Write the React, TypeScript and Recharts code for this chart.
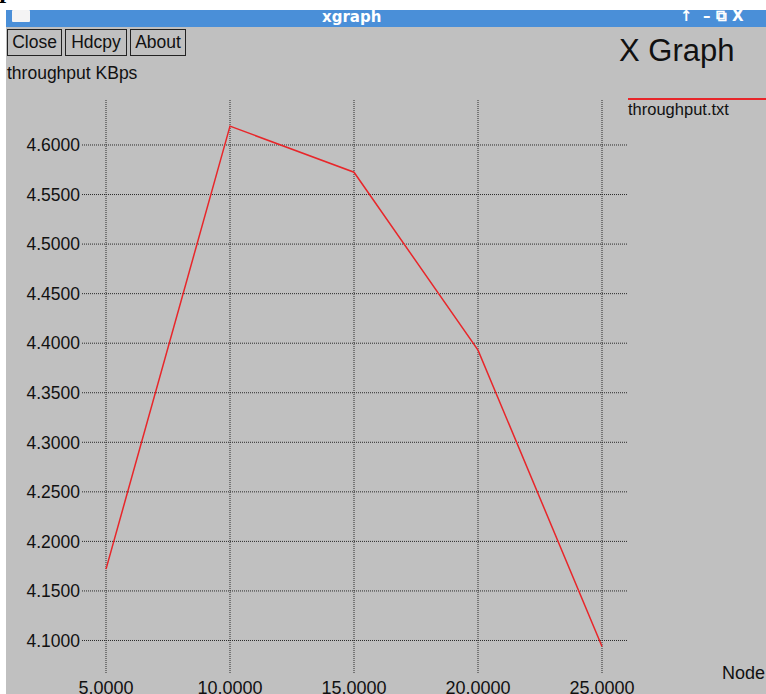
import React from 'react';
import { LineChart, Line, XAxis, YAxis, CartesianGrid } from 'recharts';

const nodes = [5, 10, 15, 20, 25];
const throughput = [4.172, 4.619, 4.5725, 4.393, 4.094];
const xTicks = [5, 10, 15, 20, 25];
const yTicks = [4.1, 4.15, 4.2, 4.25, 4.3, 4.35, 4.4, 4.45, 4.5, 4.55, 4.6];
const seriesName = 'throughput.txt';
const yLabel = 'throughput KBps';
const xLabel = 'Node';
const buttons = ['Close', 'Hdcpy', 'About'];

const data = nodes.map((n, i) => ({ node: n, value: throughput[i] }));

const FONT = '"Liberation Sans", Arial, sans-serif';
const GRAY = '#c0c0c0';
const RED = '#e8262a';

export default function App() {
  return (
    <div style={{ position: 'absolute', left: 0, top: 0, width: 766, height: 694, overflow: 'hidden', background: '#ffffff', fontFamily: FONT }}>
      {/* cropped italic fragment */}
      <div style={{ position: 'absolute', left: 1, top: -25, fontFamily: '"Liberation Serif", serif', fontStyle: 'italic', fontWeight: 'bold', fontSize: 26, color: '#000' }}>p</div>
      {/* window background */}
      <div style={{ position: 'absolute', left: 6, top: 27, width: 760, height: 667, background: GRAY }} />
      {/* title bar */}
      <div style={{ position: 'absolute', left: 6, top: 10, width: 760, height: 17, background: '#4a8fd8' }} />
      <div style={{ position: 'absolute', left: 12, top: 10, width: 18, height: 12, background: '#f4f4f4', borderRadius: 1 }} />
      <div style={{ position: 'absolute', left: 322, top: 8, fontFamily: '"DejaVu Sans", sans-serif', fontWeight: 'bold', fontSize: 15, color: '#fff' }}>xgraph</div>
      <div style={{ position: 'absolute', left: 680, top: 7, fontFamily: '"DejaVu Sans", sans-serif', fontWeight: 'bold', fontSize: 15, color: '#fff', whiteSpace: 'pre' }}>{'\u2191  \u2013 \u29C9 X'}</div>
      {/* buttons */}
      {buttons.map((b, i) => {
        const lefts = [7, 65, 130];
        const widths = [55, 62, 56];
        return (
          <div key={b} style={{ position: 'absolute', left: lefts[i], top: 29, width: widths[i], height: 27, boxSizing: 'border-box', border: '1.5px solid #222', fontSize: 17.5, color: '#111', textAlign: 'center', lineHeight: '25px' }}>{b}</div>
        );
      })}
      <div style={{ position: 'absolute', left: 7, top: 63, fontSize: 17.5, color: '#111' }}>{yLabel}</div>
      <div style={{ position: 'absolute', left: 619, top: 33, fontSize: 31, color: '#111' }}>X Graph</div>
      {/* legend */}
      <div style={{ position: 'absolute', left: 628, top: 98, width: 138, height: 2, background: RED }} />
      <div style={{ position: 'absolute', left: 628, top: 100, fontSize: 16.5, color: '#111' }}>{seriesName}</div>
      <div style={{ position: 'absolute', left: 722, top: 663, fontSize: 18, color: '#111' }}>{xLabel}</div>
      <div style={{ position: 'absolute', left: 0, top: 0 }}>
        <LineChart width={766} height={694} data={data} margin={{ top: 100, right: 138, bottom: 0, left: 6 }}>
          <CartesianGrid
            stroke="#2a2a2a"
            strokeDasharray="1 1"
            strokeWidth={1}
            horizontal
            vertical
            syncWithTicks
          />
          <XAxis
            dataKey="node"
            type="number"
            domain={[4.032, 26.048]}
            ticks={xTicks}
            allowDataOverflow
            axisLine={false}
            tickLine={false}
            tickSize={0}
            tickMargin={8}
            height={21}
            interval={0}
            tick={{ fill: '#111', fontSize: 18, fontFamily: FONT }}
            tickFormatter={(v: number) => v.toFixed(4)}
          />
          <YAxis
            type="number"
            domain={[4.0672, 4.6454]}
            ticks={yTicks}
            allowDataOverflow
            axisLine={false}
            tickLine={false}
            tickSize={0}
            tickMargin={2}
            width={76}
            interval={0}
            tick={{ fill: '#111', fontSize: 17.5, fontFamily: FONT }}
            tickFormatter={(v: number) => v.toFixed(4)}
          />
          <Line type="linear" dataKey="value" stroke={RED} strokeWidth={1.5} dot={false} isAnimationActive={false} />
        </LineChart>
      </div>
    </div>
  );
}
